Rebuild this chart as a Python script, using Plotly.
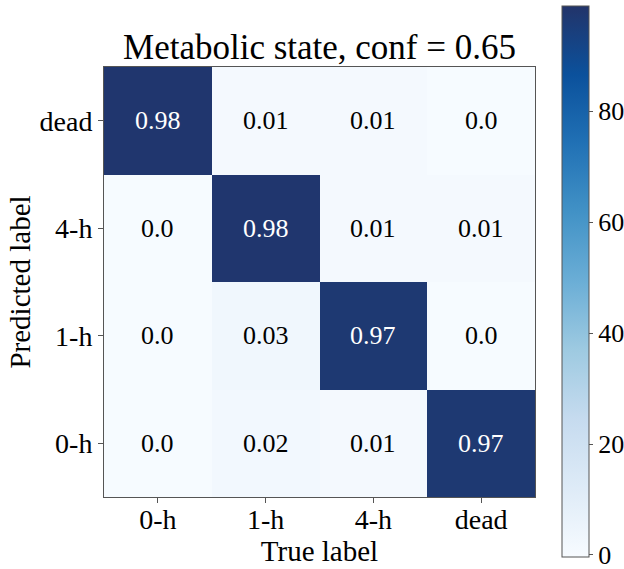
import plotly.graph_objects as go

true_labels = ["0-h", "1-h", "4-h", "dead"]
pred_labels = ["0-h", "1-h", "4-h", "dead"]  # bottom to top

# fraction values, rows = predicted label (bottom to top), cols = true label
row_0h = [0.0, 0.02, 0.01, 0.97]
row_1h = [0.0, 0.03, 0.97, 0.0]
row_4h = [0.0, 0.98, 0.01, 0.01]
row_dead = [0.98, 0.01, 0.01, 0.0]
rows = [row_0h, row_1h, row_4h, row_dead]

z = [[v * 100 for v in r] for r in rows]

colorbar_ticks = [0, 20, 40, 60, 80]
zmin = -0.3
zmax = 99

FONT = "Liberation Serif"

blues = [
    [0.0, "#f7fbff"], [0.125, "#deebf7"], [0.25, "#c6dbef"], [0.375, "#9ecae1"],
    [0.5, "#6baed6"], [0.625, "#4292c6"], [0.75, "#2171b5"], [0.875, "#0b519c"],
    [1.0, "#22346a"],
]

fig = go.Figure()
fig.add_trace(go.Heatmap(
    x=true_labels, y=pred_labels, z=z, zmin=zmin, zmax=zmax,
    colorscale=blues, hoverinfo="skip",
    colorbar=dict(
        x=1.0626, xanchor="left", xpad=0, ypad=0,
        y=0.502, yanchor="middle",
        len=551, lenmode="pixels", thickness=27,
        outlinewidth=1, outlinecolor="#555",
        tickvals=colorbar_ticks, ticks="outside", ticklen=4, tickcolor="#555",
        ticklabeloverflow="allow",
        tickfont=dict(family=FONT, size=26, color="black"),
    ),
))

for i, yl in enumerate(pred_labels):
    for j, xl in enumerate(true_labels):
        v = rows[i][j]
        fig.add_annotation(
            x=xl, y=yl, text=f"{v}", showarrow=False,
            font=dict(family=FONT, size=26,
                      color="white" if v * 100 > zmax / 2 else "black"),
        )

fig.update_layout(
    width=624, height=569,
    margin=dict(l=104, r=89, t=67, b=72, autoexpand=False),
    paper_bgcolor="white", plot_bgcolor="white",
    font=dict(family=FONT, color="black"),
    title=dict(text="Metabolic state, conf = 0.65", x=0.5, xref="paper",
               y=1, yref="paper", yanchor="bottom", pad=dict(b=8),
               font=dict(family=FONT, size=35, color="black")),
    xaxis=dict(
        title=dict(text="True label", font=dict(family=FONT, size=29), standoff=0),
        tickfont=dict(family=FONT, size=28), ticks="outside", ticklen=5,
        ticklabelstandoff=-8,
        tickcolor="#555", showline=True, linecolor="#555", linewidth=1,
        mirror=True, showgrid=False, zeroline=False, automargin=False,
    ),
    yaxis=dict(
        title=dict(text="Predicted label", font=dict(family=FONT, size=29), standoff=0),
        tickfont=dict(family=FONT, size=28), ticks="outside", ticklen=5,
        tickcolor="#555", showline=True, linecolor="#555", linewidth=1,
        mirror=True, showgrid=False, zeroline=False, automargin=False,
    ),
)

fig.write_html("out.html")
